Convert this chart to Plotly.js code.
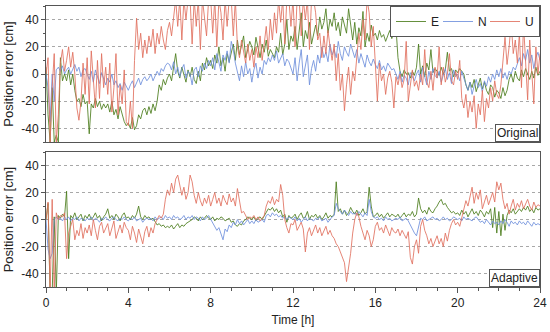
<!DOCTYPE html>
<html><head><meta charset="utf-8">
<script src="https://cdn.plot.ly/plotly-3.0.1.min.js"></script>
<style>html,body{margin:0;padding:0;background:#fff}#chart{width:550px;height:332px}</style>
</head><body><div id="chart"></div>
<script>
// Sampling: one value every 0.1 h, from 0 h to 24 h (241 values per series)
const STEP_H = 0.1;
const seriesNames = ["E", "N", "U"];
const panelLabels = ["Original", "Adaptive"];
const xTickLabels = ["0", "4", "8", "12", "16", "20", "24"];
const yTickLabels = ["-40", "-20", "0", "20", "40"];

// ---- Original (top panel), cm ----
const origE = [
 5,-30,-50,-10,-50,-45,-50,12,-5,0,
 -5,3,-8,0,-12,-20,-18,-24,-15,-22,
 -20,-44,-22,-25,-18,-24,-20,-26,-22,-25,
 -22,-28,-20,-30,-26,-33,-24,-30,-35,-38,
 -36,-40,-32,-41,-38,-30,-33,-27,-25,-30,
 -24,-29,-22,-27,-20,-8,-12,-4,-8,-3,
 0,-5,4,15,2,-3,5,0,-6,3,
 -2,5,-4,-7,2,-5,8,3,12,6,
 10,4,14,8,20,6,12,2,15,9,
 16,22,10,25,14,20,28,12,18,24,
 20,14,27,18,12,22,16,25,13,18,
 15,12,20,16,30,14,22,40,18,28,
 24,35,18,30,45,20,32,26,38,22,
 30,36,28,42,33,38,48,30,40,35,
 45,32,38,28,42,36,30,48,34,25,
 38,22,34,28,46,20,30,24,36,28,
 30,25,32,27,29,24,28,32,26,30,
 35,12,2,-2,3,0,1,-3,2,-1,
 5,22,0,6,-2,8,3,18,1,4,
 2,-1,5,0,3,16,2,4,-2,3,
 1,4,2,0,-8,-12,-6,-10,-4,-13,
 -8,-3,-11,-6,-12,-15,-8,-10,-17,-12,
 -14,-18,-10,-16,-12,-4,0,-6,2,-3,
 -5,3,-2,4,0,-4,2,-3,5,-1,
 2];
const origN = [
 0,-10,-35,0,-20,3,5,2,6,0,
 3,5,0,4,7,2,5,-2,3,4,
 0,-4,2,-6,3,-3,-7,1,-4,-8,
 -3,-6,0,-8,-5,-10,-7,-12,-6,-9,
 -12,-8,-5,-10,-6,-3,-8,-4,-2,-5,
 -3,0,-5,-2,2,-1,4,2,6,8,
 7,3,9,0,5,-2,4,7,-3,2,
 0,-8,3,5,-2,6,2,8,4,10,
 6,12,3,15,8,2,14,10,17,8,
 24,18,8,2,-5,6,-2,9,0,4,
 -6,3,8,-3,5,0,10,7,12,9,
 14,10,17,8,12,15,6,11,9,5,
 0,12,-5,8,18,-2,6,14,-8,4,
 10,2,14,8,20,12,16,9,22,14,
 18,12,24,15,10,20,16,13,22,17,
 12,18,8,15,10,5,14,9,6,11,
 7,4,10,3,6,2,8,5,3,4,
 0,-4,2,-6,-1,-3,-8,1,-2,-5,
 0,3,-6,5,-2,-8,2,-4,4,-1,
 -3,2,-6,0,4,-4,1,-7,3,-2,
 0,-5,2,-3,-8,-12,-6,-15,-9,-4,
 -10,-7,-13,-5,-9,-2,-6,0,-4,3,
 -2,4,-3,1,-4,2,0,5,3,8,
 12,6,15,10,18,8,14,4,12,16,
 10];
const origU = [
 0,12,-50,-10,15,-50,-30,8,18,2,
 10,20,5,16,0,-25,-34,-20,8,-15,
 12,-22,17,-5,-25,10,-18,15,-10,5,
 -15,8,-28,-10,15,-30,-8,-22,3,-35,
 -38,-20,-40,10,41,18,30,12,25,15,
 28,20,33,15,30,22,35,25,18,32,
 38,28,45,55,35,55,25,55,40,55,
 55,22,55,35,55,18,55,42,28,55,
 55,30,55,20,55,45,25,55,35,55,
 55,28,55,20,12,25,15,8,22,10,
 18,5,20,12,28,10,22,35,18,40,
 25,45,30,55,38,55,22,55,55,35,
 55,20,55,55,28,55,40,55,18,55,
 55,45,25,30,12,28,15,32,20,10,
 22,-5,15,-12,0,-27,-8,5,-15,2,
 -5,10,30,18,40,25,55,45,20,35,
 5,-20,8,-5,0,-15,-3,2,-6,-25,
 -2,-8,0,-10,-4,24,-20,-6,3,-9,
 -5,-12,0,-8,18,-6,-10,2,-12,5,
 -3,20,-8,5,-6,0,15,-5,-8,2,
 -4,10,-18,-25,-15,-32,-20,-28,-16,-40,
 -22,-30,-12,-35,-18,-25,-10,-20,-5,-15,
 -18,-8,10,27,7,20,38,15,25,8,
 30,-10,37,12,-19,25,5,-22,20,0,
 15];

// ---- Adaptive (bottom panel), cm ----
const adapE = [
 0,12,-55,-55,2,-55,3,1,4,2,
 21,-29,3,1,5,0,2,4,-1,3,
 1,4,0,2,5,1,3,-1,2,4,
 8,1,3,0,4,2,-1,3,5,1,
 2,0,3,1,4,10,2,0,3,1,
 2,0,1,-2,-4,-3,-5,-4,-6,-5,
 -6,-4,-7,-5,-3,-6,-4,-5,-3,-2,
 -1,0,2,1,-1,2,0,1,3,1,
 0,2,-1,1,0,2,1,-1,0,1,
 -2,-1,-4,-5,-3,-4,-1,0,2,1,
 0,2,-1,1,2,0,3,6,8,7,
 9,6,8,5,7,2,4,-2,3,1,
 2,4,0,3,5,1,2,6,0,3,
 2,4,1,3,0,2,5,1,3,2,
 4,28,6,8,4,7,3,5,9,6,
 4,7,3,5,8,4,6,24,10,2,
 3,5,2,4,1,3,5,2,4,3,
 2,4,1,3,5,2,4,3,6,2,
 4,16,8,5,7,4,9,6,5,8,
 10,13,15,11,12,9,7,5,6,4,
 5,3,7,4,6,2,5,8,4,6,
 3,7,5,2,6,4,8,-6,9,-10,
 6,-12,4,-8,3,7,5,8,4,6,
 8,6,9,7,10,6,8,5,9,7,
 8];
const adapN = [
 0,-22,-29,-25,0,2,0,1,-1,2,
 0,2,-1,1,0,2,-1,1,0,-1,
 1,0,2,-1,1,0,-2,1,0,2,
 0,-1,1,2,0,-1,1,0,2,0,
 -1,1,0,2,-1,0,1,-2,0,1,
 0,1,-1,2,0,1,2,0,3,1,
 2,0,3,1,2,0,1,3,0,2,
 1,3,0,2,1,-1,2,0,1,3,
 0,-3,-5,-8,-6,-10,-15,-7,-9,-4,
 -6,-2,-4,0,-3,-1,-4,-2,0,-3,
 -1,-3,0,-2,-1,0,-2,3,4,2,
 5,3,4,2,3,1,2,0,2,1,
 0,2,-1,1,-2,0,2,-1,1,0,
 -1,1,0,2,-1,0,1,-2,0,2,
 3,12,8,6,4,7,5,3,6,4,
 5,3,6,4,2,5,3,15,6,2,
 1,2,0,1,-1,2,0,1,-1,0,
 1,0,2,-1,0,1,-1,-4,-8,-10,
 -12,-6,1,0,2,-1,0,1,2,0,
 1,-1,0,2,0,1,-1,0,2,1,
 0,1,-1,2,0,1,0,-1,1,2,
 0,-2,-1,-3,0,-2,-4,-1,-3,-2,
 -4,-1,-3,0,-2,-5,-1,-3,-2,-4,
 -1,-3,-2,-4,-1,-3,-5,-2,-4,-3,
 -4];
const adapU = [
 0,13,-55,15,-55,5,0,3,2,5,
 -29,-10,-5,0,-15,-8,-12,-3,-14,-6,
 -10,-4,-12,0,-8,-15,-5,-2,-10,-6,
 -3,-12,-7,-1,-14,-8,-4,-10,-2,-6,
 -8,-15,-5,-10,-17,-7,-12,-18,-9,-5,
 -13,-6,-10,-3,0,3,1,4,15,22,
 18,27,20,30,33,25,18,24,15,20,
 33,28,18,12,20,14,10,16,12,18,
 10,15,20,12,16,10,18,14,11,19,
 13,16,10,23,15,5,6,3,0,2,
 1,3,0,2,-1,1,3,10,14,12,
 17,11,15,13,26,18,0,-6,-10,-3,
 -4,0,-8,-5,-2,-7,-24,-10,-6,-12,
 -8,-4,-10,-6,-12,-9,-5,-11,-8,-12,
 -14,-18,-20,-24,-28,-32,-46,-36,-25,-10,
 0,5,2,-5,-10,-15,-8,-12,-20,-15,
 -5,-2,-8,-6,-10,-4,-8,-12,-6,-9,
 -10,-7,-12,-8,-11,-14,-9,-28,-33,-20,
 -15,-25,-5,0,-8,-12,-18,-14,-20,-16,
 -12,-18,-14,-20,-10,-16,-8,-3,0,-4,
 -2,-5,2,8,14,10,18,24,12,20,
 15,22,8,14,18,11,16,20,13,28,
 22,27,15,8,12,4,10,15,7,12,
 9,14,8,12,15,10,7,13,9,11,
 10];

const colors = { E: "#4b7d1c", N: "#6f8fdc", U: "#e0705e" };
const legendWidths = { E: 2, N: 2, U: 9 };
const time = origE.map((_, i) => +(i * STEP_H).toFixed(2));

const panels = [
  { data: { E: origE, N: origN, U: origU }, xa: "x", ya: "y", legend: true },
  { data: { E: adapE, N: adapN, U: adapU }, xa: "x2", ya: "y2", legend: false }
];
const traces = [];
panels.forEach(p => {
  seriesNames.forEach(k => {
    traces.push({
      type: "scatter", mode: "lines", x: time, y: p.data[k], name: k,
      xaxis: p.xa, yaxis: p.ya, showlegend: p.legend, legendwidth: legendWidths[k],
      line: { color: colors[k], width: 1 }, opacity: 0.85, hoverinfo: "skip"
    });
  });
});

const font = { family: "Liberation Sans, Arial, sans-serif", color: "#222", size: 12 };
const yBase = {
  range: [-50, 50], tickvals: [-40, -20, 0, 20, 40], ticktext: yTickLabels,
  ticks: "outside", ticklen: 4, tickcolor: "#555",
  minor: { dtick: 10, tick0: 0, ticks: "outside", ticklen: 2, tickcolor: "#555", showgrid: false },
  showgrid: true, gridcolor: "#a8a8a8", griddash: "dot", gridwidth: 1, zeroline: false,
  showline: true, mirror: true, linecolor: "#555", linewidth: 1,
  tickfont: { size: 12 }, title: { text: "Position error [cm]", font: { size: 13 }, standoff: 4 }
};
const layout = {
  width: 550, height: 332, font: font,
  paper_bgcolor: "#fff", plot_bgcolor: "#fff",
  margin: { l: 46, r: 10, t: 6, b: 45 },
  showlegend: true,
  legend: {
    orientation: "h", x: 1, xanchor: "right", y: 1, yanchor: "top",
    bgcolor: "#fff", bordercolor: "#555", borderwidth: 1,
    font: { size: 12 }, itemwidth: 30, traceorder: "normal"
  },
  xaxis: {
    domain: [0, 1], anchor: "y", range: [0, 24], showticklabels: false, ticks: "",
    showgrid: false, zeroline: false, showline: true, mirror: true, linecolor: "#555", linewidth: 1
  },
  yaxis: Object.assign({}, yBase, { domain: [0.516, 1], anchor: "x" }),
  xaxis2: {
    domain: [0, 1], anchor: "y2", range: [0, 24],
    tickvals: [0, 4, 8, 12, 16, 20, 24], ticktext: xTickLabels,
    ticks: "outside", ticklen: 5, tickcolor: "#555",
    minor: { dtick: 1, tick0: 0, ticks: "outside", ticklen: 3, tickcolor: "#555", showgrid: false },
    showgrid: false, zeroline: false, showline: true, mirror: true, linecolor: "#555", linewidth: 1,
    tickfont: { size: 12 }, title: { text: "Time [h]", font: { size: 12 }, standoff: 6 }
  },
  yaxis2: Object.assign({}, yBase, { domain: [0, 0.48], anchor: "x2" }),
  annotations: [
    { text: panelLabels[0], xref: "paper", x: 1, xanchor: "right", yref: "y domain", y: 0, yanchor: "bottom",
      showarrow: false, bgcolor: "#fff", bordercolor: "#555", borderwidth: 1, borderpad: 1, font: { size: 12 } },
    { text: panelLabels[1], xref: "paper", x: 1, xanchor: "right", yref: "y2 domain", y: 0, yanchor: "bottom",
      showarrow: false, bgcolor: "#fff", bordercolor: "#555", borderwidth: 1, borderpad: 1, font: { size: 12 } }
  ]
};
Plotly.newPlot("chart", traces, layout, { displayModeBar: false, staticPlot: true });
</script></body></html>
